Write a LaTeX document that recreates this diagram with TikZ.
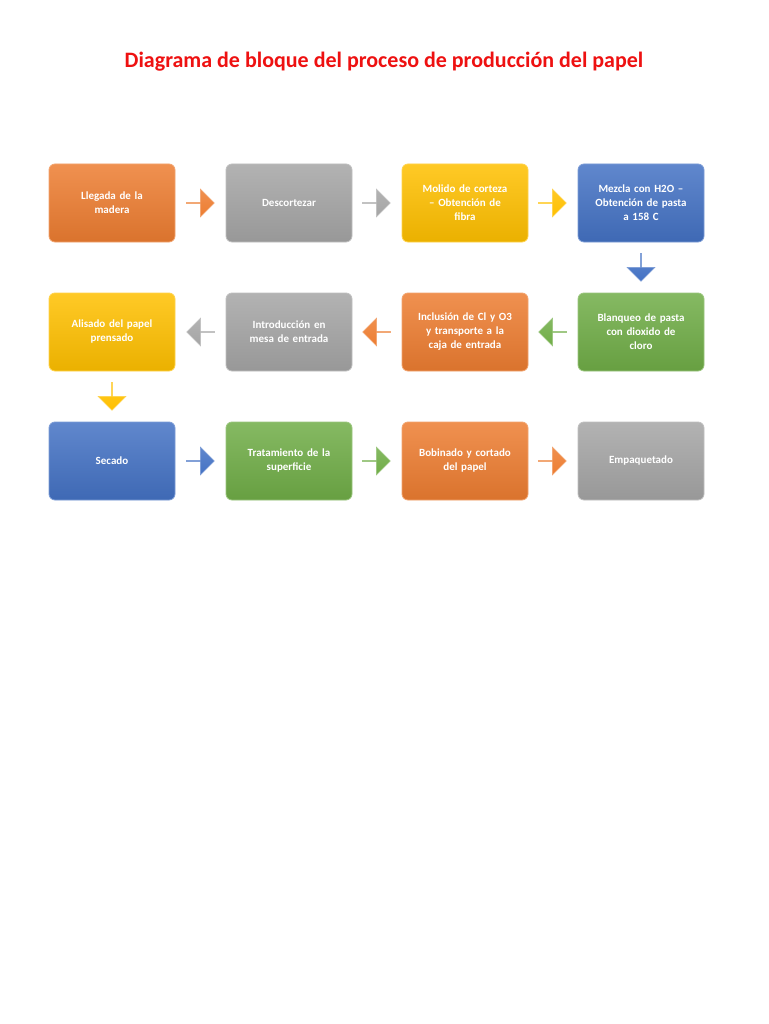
\documentclass[tikz,border=0pt]{standalone}
\usepackage{fontspec}
\setmainfont{Carlito}
\usetikzlibrary{shapes.arrows}
\definecolor{cor}{HTML}{ED7D31}
\definecolor{cgr}{HTML}{A5A5A5}
\definecolor{cgo}{HTML}{FFC000}
\definecolor{cbl}{HTML}{4472C4}
\definecolor{cgn}{HTML}{70AD47}
\definecolor{ctitle}{HTML}{EE1111}
\tikzset{
 blk/.style={rounded corners=6pt, minimum width=126pt, minimum height=78pt, text width=118pt, align=center,
   font=\bfseries\fontsize{11}{14}\selectfont, text=white, top color=#1!85!white, bottom color=#1!92!black, draw=#1!70!white, line width=0.8pt},
 barr/.style={single arrow, single arrow head extend=5pt, minimum width=28pt, minimum height=28pt, inner sep=0pt,
   top color=#1!85!white, bottom color=#1, draw=#1!70!white, line width=0.5pt}
}
\begin{document}
\begin{tikzpicture}[x=1pt,y=-1pt]
\useasboundingbox[fill=white] (0,0) rectangle (768,1024);
\node[font=\bfseries\fontsize{22}{26}\selectfont, text=ctitle] (title) at (384,62) {Diagrama de bloque del proceso de producción del papel};
% row 1
\node[blk=cor] (a1) at (112,203) {Llegada de la\\madera};
\node[blk=cgr] (a2) at (289,203) {Descortezar};
\node[blk=cgo] (a3) at (465,203) {Molido de corteza\\– Obtención de\\fibra};
\node[blk=cbl] (a4) at (641,203) {Mezcla con H2O –\\Obtención de pasta\\a 158 C};
% row 2
\node[blk=cgn] (b4) at (641,332) {Blanqueo de pasta\\con dioxido de\\cloro};
\node[blk=cor] (b3) at (465,332) {Inclusión de Cl y O3\\y transporte a la\\caja de entrada};
\node[blk=cgr] (b2) at (289,332) {Introducción en\\mesa de entrada};
\node[blk=cgo] (b1) at (112,332) {Alisado del papel\\prensado};
% row 3
\node[blk=cbl] (c1) at (112,461) {Secado};
\node[blk=cgn] (c2) at (289,461) {Tratamiento de la\\superficie};
\node[blk=cor] (c3) at (465,461) {Bobinado y cortado\\del papel};
\node[blk=cgr] (c4) at (641,461) {Empaquetado};
% arrows
\node[barr=cor] (r1) at (200,203) {};
\node[barr=cgr] (r2) at (376,203) {};
\node[barr=cgo] (r3) at (552,203) {};
\node[barr=cbl, shape border rotate=270] (d1) at (641,267) {};
\node[barr=cgn, shape border rotate=180] (l1) at (553,332) {};
\node[barr=cor, shape border rotate=180] (l2) at (377,332) {};
\node[barr=cgr, shape border rotate=180] (l3) at (201,332) {};
\node[barr=cgo, shape border rotate=270] (d2) at (112,396) {};
\node[barr=cbl] (r4) at (200,461) {};
\node[barr=cgn] (r5) at (376,461) {};
\node[barr=cor] (r6) at (552,461) {};
\end{tikzpicture}
\end{document}
